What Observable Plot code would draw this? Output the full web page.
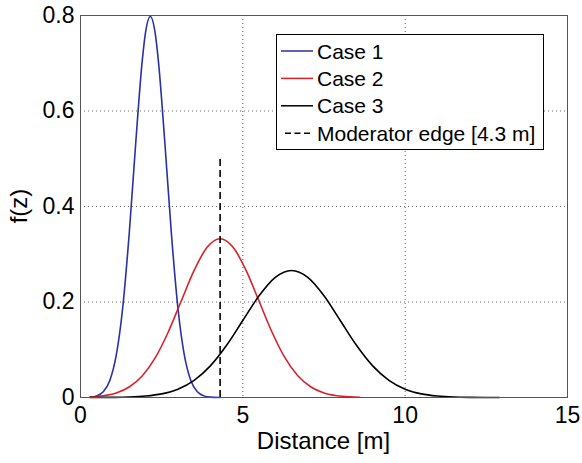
<!DOCTYPE html>
<html>
<head>
<meta charset="utf-8">
<script src="https://cdn.jsdelivr.net/npm/d3@7"></script>
<script src="https://cdn.jsdelivr.net/npm/@observablehq/plot@0.6"></script>
<style>
  html, body { margin: 0; padding: 0; background: #fff; }
  #chart { position: relative; width: 582px; height: 463px; }
</style>
</head>
<body>
<div id="chart"></div>
<script>
// ---- data ----
const case1X = [0.3, 0.5, 0.7, 0.9, 1.1, 1.3, 1.5, 1.7, 1.9, 2.0, 2.15, 2.3, 2.4, 2.6, 2.8, 3.0, 3.2, 3.4, 3.6, 3.8, 4.0, 4.3];
const case1Y = [0.0008, 0.0034, 0.0119, 0.035, 0.088, 0.188, 0.343, 0.532, 0.704, 0.763, 0.798, 0.763, 0.704, 0.532, 0.343, 0.188, 0.088, 0.035, 0.0119, 0.0034, 0.0008, 0.0001];

const case2X = [0.3, 0.7, 1.1, 1.5, 1.9, 2.3, 2.7, 3.1, 3.5, 3.9, 4.3, 4.7, 5.1, 5.5, 5.9, 6.3, 6.7, 7.1, 7.5, 7.9, 8.3, 8.6];
const case2Y = [0.0013, 0.0037, 0.0095, 0.0219, 0.045, 0.0829, 0.1367, 0.2017, 0.2662, 0.3145, 0.3325, 0.3145, 0.2662, 0.2017, 0.1367, 0.0829, 0.045, 0.0219, 0.0095, 0.0037, 0.0013, 0.0005];

const case3X = [0.3, 0.5, 1.0, 1.5, 2.0, 2.5, 3.0, 3.5, 4.0, 4.5, 5.0, 5.5, 6.0, 6.5, 7.0, 7.5, 8.0, 8.5, 9.0, 9.5, 10.0, 10.5, 11.0, 11.5, 12.0, 12.5, 12.9];
const case3Y = [0.00005, 0.0001, 0.0003, 0.001, 0.003, 0.0076, 0.0175, 0.036, 0.0663, 0.1094, 0.1613, 0.213, 0.2516, 0.266, 0.2516, 0.213, 0.1613, 0.1094, 0.0663, 0.036, 0.0175, 0.0076, 0.003, 0.001, 0.0003, 0.0001, 0.00005];

const moderatorEdge = 4.3;
const moderatorTop = 0.5;

const xTicks = [0, 5, 10, 15];
const yTicks = [0, 0.2, 0.4, 0.6, 0.8];
const gridX = [5, 10];
const gridY = [0.2, 0.4, 0.6];

const seriesNames = ["Case 1", "Case 2", "Case 3", "Moderator edge [4.3 m]"];
const seriesColors = ["#2632a8", "#d8222a", "#000000", "#000000"];
const xLabel = "Distance [m]";
const yLabel = "f(z)";

// ---- build tables ----
const toRows = (xs, ys) => xs.map((x, i) => ({x, y: ys[i]}));
const c1 = toRows(case1X, case1Y);
const c2 = toRows(case2X, case2Y);
const c3 = toRows(case3X, case3Y);

const W = 582, H = 463;
const mL = 80, mR = 15, mT = 15, mB = 66;
const FONT = "'Liberation Sans', Arial, Helvetica, sans-serif";

const chart = Plot.plot({
  width: W,
  height: H,
  marginLeft: mL,
  marginRight: mR,
  marginTop: mT,
  marginBottom: mB,
  style: {fontFamily: FONT, background: "#fff", overflow: "visible"},
  x: {domain: [0, 15]},
  y: {domain: [0, 0.8]},
  marks: [
    Plot.gridX(gridX, {stroke: "#666", strokeOpacity: 1, strokeDasharray: "1,3"}),
    Plot.gridY(gridY, {stroke: "#666", strokeOpacity: 1, strokeDasharray: "1,3"}),
    Plot.line(c1, {x: "x", y: "y", stroke: seriesColors[0], strokeWidth: 1.6, curve: "monotone-x"}),
    Plot.line(c2, {x: "x", y: "y", stroke: seriesColors[1], strokeWidth: 1.6, curve: "monotone-x"}),
    Plot.line(c3, {x: "x", y: "y", stroke: seriesColors[2], strokeWidth: 1.6, curve: "monotone-x"}),
    Plot.ruleX([moderatorEdge], {y1: 0, y2: moderatorTop, stroke: seriesColors[3], strokeWidth: 1.6, strokeDasharray: "7,4"}),
    Plot.axisX(xTicks, {tickSize: 0, tickPadding: 9, fontSize: 23, label: null, tickFormat: d => String(d)}),
    Plot.axisY(yTicks, {tickSize: 0, tickPadding: 6, fontSize: 23, label: null, tickFormat: d => d === 0 ? "0" : d.toFixed(1)}),
    Plot.frame({stroke: "#555", strokeWidth: 1})
  ]
});

document.getElementById("chart").appendChild(chart);

const svg = d3.select(chart);
svg.selectAll("text").attr("fill", "#000");

// axis titles
svg.append("text")
  .attr("x", (mL + W - mR) / 2)
  .attr("y", 449)
  .attr("text-anchor", "middle")
  .attr("font-size", 24)
  .attr("font-family", FONT)
  .attr("fill", "#000")
  .text(xLabel);

svg.append("text")
  .attr("transform", `translate(27, ${(mT + H - mB) / 2}) rotate(-90)`)
  .attr("text-anchor", "middle")
  .attr("font-size", 24)
  .attr("font-family", FONT)
  .attr("fill", "#000")
  .text(yLabel);

// legend
const lg = svg.append("g");
lg.append("rect")
  .attr("x", 276.5).attr("y", 34.5)
  .attr("width", 267).attr("height", 115)
  .attr("fill", "#fff").attr("stroke", "#000").attr("stroke-width", 1);
seriesNames.forEach((name, i) => {
  const cy = 51 + i * 27.4;
  lg.append("line")
    .attr("x1", i === 3 ? 285 : 281).attr("x2", 313)
    .attr("y1", cy).attr("y2", cy)
    .attr("stroke", seriesColors[i]).attr("stroke-width", 1.5)
    .attr("stroke-dasharray", i === 3 ? "6,3.5" : null);
  lg.append("text")
    .attr("x", 317).attr("y", cy)
    .attr("dy", "0.36em")
    .attr("text-anchor", "start")
    .attr("font-size", 21)
    .attr("font-family", FONT)
    .attr("fill", "#000")
    .text(name);
});
</script>
</body>
</html>
